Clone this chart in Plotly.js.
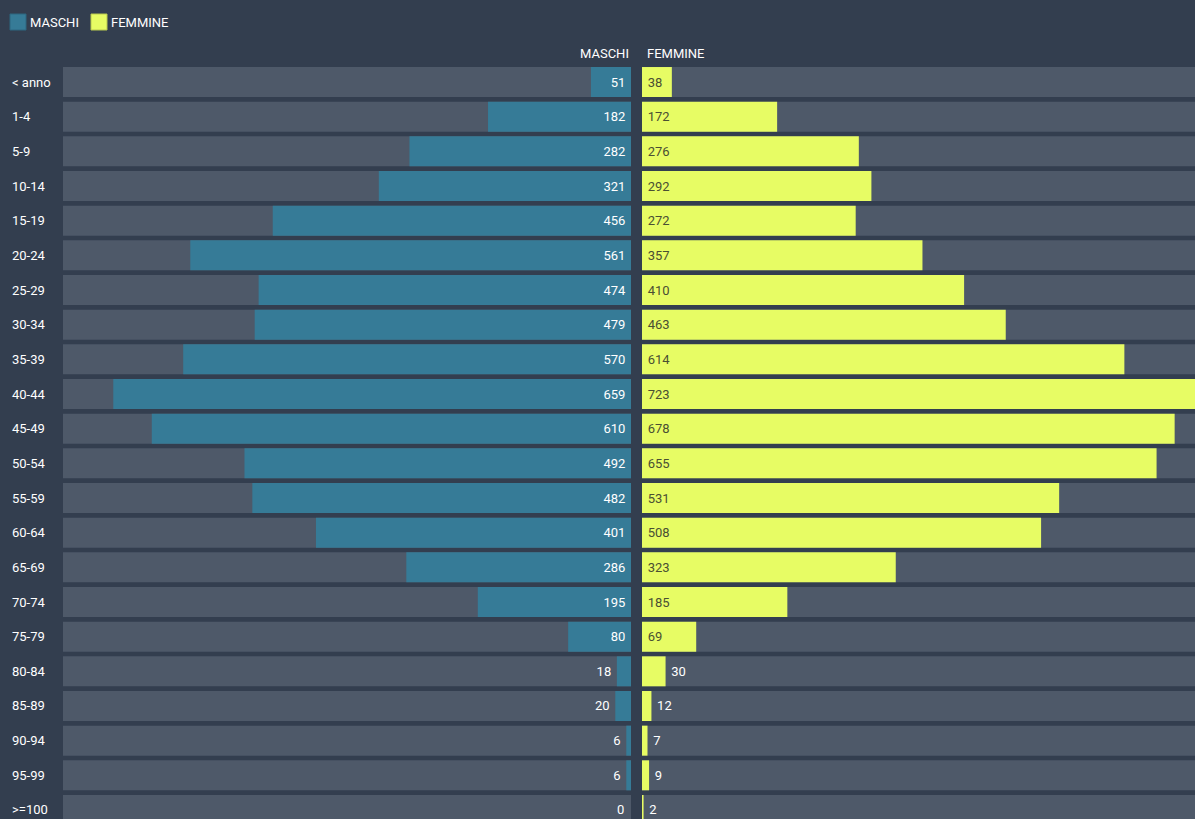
<!DOCTYPE html>
<html>
<head>
<meta charset="utf-8">
<script src="https://cdn.plot.ly/plotly-3.0.1.min.js"></script>
<style>
html,body{margin:0;padding:0;background:#333e4f;}
#chart{width:1195px;height:819px;}
</style>
</head>
<body>
<div id="chart"></div>
<script>
const ages = ['< anno','1-4','5-9','10-14','15-19','20-24','25-29','30-34','35-39','40-44','45-49','50-54','55-59','60-64','65-69','70-74','75-79','80-84','85-89','90-94','95-99','>=100'];
const maschi = [51,182,282,321,456,561,474,479,570,659,610,492,482,401,286,195,80,18,20,6,6,0];
const femmine = [38,172,276,292,272,357,410,463,614,723,678,655,531,508,323,185,69,30,12,7,9,2];
const seriesNames = ['MASCHI','FEMMINE'];

const W = 1195, H = 819, T = 64, B = 0;
const plotH = H - T - B;
const px = v => v / W;
const py = v => (H - v) / plotH;

const maxVal = Math.max(...maschi, ...femmine);
const bgVals = ages.map(() => maxVal);
const BLUE = '#367b97', YELLOW = '#e7fc64', GRAY = '#4e5969', BG = '#333e4f';
const FONT = 'Roboto, "Open Sans", sans-serif';
const pos = arr => arr.map(v => v >= 35 ? 'inside' : 'outside');
const THIN = '\u2009';

const maleText = maschi.map(v => v === 0 ? '' : String(v) + THIN);
const femText = femmine.map(v => THIN + String(v));

const traces = [
  {type:'bar', orientation:'h', y:ages, x:bgVals, xaxis:'x', yaxis:'y', marker:{color:GRAY}, hoverinfo:'skip', showlegend:false},
  {type:'bar', orientation:'h', y:ages, x:bgVals, xaxis:'x2', yaxis:'y', marker:{color:GRAY}, hoverinfo:'skip', showlegend:false},
  {type:'bar', orientation:'h', name:seriesNames[0], y:ages, x:maschi, xaxis:'x', yaxis:'y',
   marker:{color:BLUE, line:{width:0}}, text:maleText, textposition:pos(maschi), insidetextanchor:'start',
   insidetextfont:{family:FONT, size:13, color:'#ffffff'},
   outsidetextfont:{family:FONT, size:13, color:'#ffffff'}, constraintext:'none', cliponaxis:false, showlegend:false},
  {type:'bar', orientation:'h', name:seriesNames[1], y:ages, x:femmine, xaxis:'x2', yaxis:'y',
   marker:{color:YELLOW, line:{width:0}}, text:femText, textposition:pos(femmine), insidetextanchor:'start',
   insidetextfont:{family:FONT, size:13, color:'#4a4f33'},
   outsidetextfont:{family:FONT, size:13, color:'#ffffff'}, constraintext:'none', cliponaxis:true, showlegend:false}
];

const annotations = ages.map(a => ({
  x: px(10), xref:'paper', y:a, yref:'y', text:a, showarrow:false, xanchor:'left', yanchor:'middle',
  font:{family:FONT, size:13, color:'#ffffff'}
}));
// zero-valued male bars: label sits at the axis base
maschi.forEach((v, i) => {
  if (v === 0) annotations.push({x:0, xref:'x', y:ages[i], yref:'y', text:String(v), showarrow:false,
    xanchor:'right', yanchor:'middle', xshift:-5, font:{family:FONT, size:13, color:'#ffffff'}});
});
annotations.push({x:px(631), xref:'paper', y:py(53), yref:'paper', text:seriesNames[0], showarrow:false, xanchor:'right', yanchor:'middle', font:{family:FONT, size:13, color:'#ffffff'}});
annotations.push({x:px(645), xref:'paper', y:py(53), yref:'paper', text:seriesNames[1], showarrow:false, xanchor:'left', yanchor:'middle', font:{family:FONT, size:13, color:'#ffffff'}});
annotations.push({x:px(28), xref:'paper', y:py(22), yref:'paper', text:seriesNames[0], showarrow:false, xanchor:'left', yanchor:'middle', font:{family:FONT, size:13, color:'#ffffff'}});
annotations.push({x:px(109), xref:'paper', y:py(22), yref:'paper', text:seriesNames[1], showarrow:false, xanchor:'left', yanchor:'middle', font:{family:FONT, size:13, color:'#ffffff'}});

const shapes = [
  {type:'rect', xref:'paper', yref:'paper', x0:px(10), x1:px(26), y0:py(30), y1:py(14), fillcolor:BLUE, line:{color:'#2c6680', width:1}},
  {type:'rect', xref:'paper', yref:'paper', x0:px(91), x1:px(107), y0:py(30), y1:py(14), fillcolor:YELLOW, line:{color:'#b9c94e', width:1}}
];

const rightRange = (W - 642) / (568 / maxVal);

const layout = {
  width: W, height: H,
  margin:{l:0, r:0, t:T, b:B, pad:0},
  paper_bgcolor: BG, plot_bgcolor: BG,
  barmode:'overlay', bargap:0.135,
  showlegend:false,
  font:{family:FONT, size:13, color:'#ffffff'},
  xaxis:{domain:[px(63), px(631)], range:[maxVal, 0], showgrid:false, zeroline:false, showticklabels:false, ticks:'', fixedrange:true},
  xaxis2:{domain:[px(642), 1], range:[0, rightRange], showgrid:false, zeroline:false, showticklabels:false, ticks:'', anchor:'y', fixedrange:true},
  yaxis:{type:'category', categoryorder:'array', categoryarray:ages, range:[21.26, -0.52], showgrid:false, zeroline:false, showticklabels:false, ticks:'', fixedrange:true},
  annotations, shapes
};

Plotly.newPlot('chart', traces, layout, {displayModeBar:false, staticPlot:true});
</script>
</body>
</html>
